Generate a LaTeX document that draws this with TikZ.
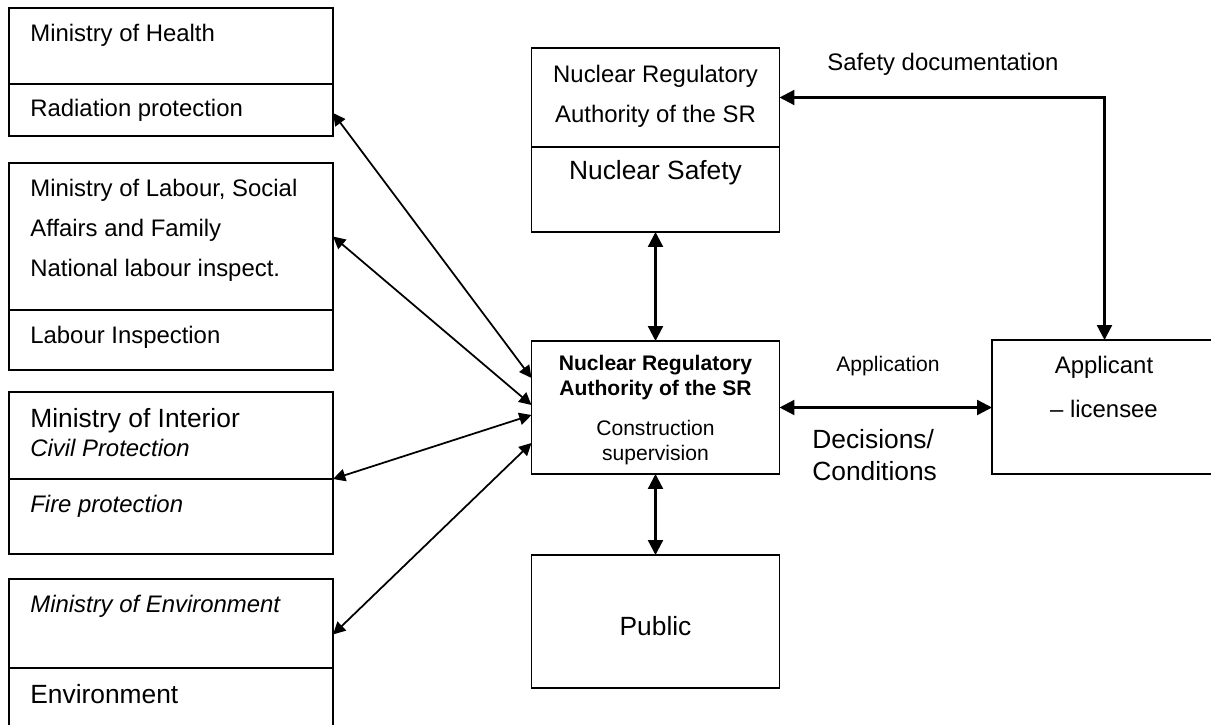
\documentclass[tikz,border=0pt]{standalone}
\usepackage{fontspec}
\setmainfont{Liberation Sans}
\usetikzlibrary{arrows.meta,positioning,calc}

\begin{document}
\begin{tikzpicture}[
    part/.style = {rectangle, draw, line width=0.75pt, minimum width=6.48cm, anchor=north west, inner sep=0pt, outer sep=0pt},
    mid/.style = {rectangle, draw, line width=0.75pt, minimum width=4.96cm, inner sep=0pt, outer sep=0pt},
    txt/.style = {inner sep=0pt, font=\fontsize{13.6}{16}\selectfont},
    big/.style = {inner sep=0pt, font=\fontsize{15}{18}\selectfont},
    small/.style = {inner sep=0pt, font=\fontsize{12}{13.7}\selectfont},
    link/.style = {{Triangle[length=7pt,width=7pt]}-{Triangle[length=7pt,width=7pt]}, line width=1pt},
    main/.style = {{Triangle[length=8.5pt,width=8.5pt]}-{Triangle[length=8.5pt,width=8.5pt]}, line width=1.3pt}
]
    \useasboundingbox (0,0) rectangle (24.22,14.48);
    % Ministries on the left
    \node[part, minimum height=1.52cm] (healthA) at (0.18,14.32) {};
    \node[part, minimum height=1.04cm, below=0pt of healthA] (radprot) {};
    \node[txt, anchor=base west] (healthT) at (0.6,13.64) {Ministry of Health};
    \node[txt, anchor=base west] (radT) at (0.6,12.14) {Radiation protection};

    \node[part, minimum height=2.94cm] (labourA) at (0.18,11.22) {};
    \node[part, minimum height=1.2cm, below=0pt of labourA] (labourB) {};
    % multi-line nodes sit on their last baseline
    \node[txt, anchor=base west, align=left, font=\fontsize{13.6}{22.8}\selectfont] (labourT) at (0.6,8.94) {Ministry of Labour, Social\\Affairs and Family\\National labour inspect.};
    \node[txt, anchor=base west] (inspT) at (0.6,7.62) {Labour Inspection};

    \node[part, minimum height=1.74cm] (interiorA) at (0.18,6.64) {};
    \node[part, minimum height=1.5cm, below=0pt of interiorA] (interiorB) {};
    \node[big, anchor=base west] (interiorT) at (0.6,5.94) {Ministry of Interior};
    \node[txt, anchor=base west] (civilT) at (0.6,5.36) {\itshape Civil Protection};
    \node[txt, anchor=base west] (fireT) at (0.6,4.24) {\itshape Fire protection};

    \node[part, minimum height=1.78cm] (envA) at (0.18,2.9) {};
    \node[part, minimum height=1.2cm, below=0pt of envA] (envB) {};
    \node[txt, anchor=base west] (envT) at (0.6,2.24) {\itshape Ministry of Environment};
    \node[big, anchor=base west] (environT) at (0.6,0.42) {Environment};

    % Authority boxes
    \node[mid, minimum height=1.98cm, anchor=north] (nraA) at (13.11,13.52) {};
    \node[mid, minimum height=1.7cm, below=0pt of nraA] (safety) {};
    \node[txt, anchor=base, align=center, font=\fontsize{13.6}{23.3}\selectfont] (nraT) at (13.11,12.02) {Nuclear Regulatory\\Authority of the SR};
    \node[big, anchor=base] (safetyT) at (13.11,10.88) {Nuclear Safety};

    \node[mid, minimum height=2.66cm] (csv) at (13.11,6.33) {};
    \node[small, anchor=base, align=center, font=\bfseries\fontsize{12}{13.66}\selectfont] (csvT) at (13.11,6.58) {Nuclear Regulatory\\Authority of the SR};
    \node[small, anchor=base, align=center] (constrT) at (13.11,5.28) {Construction\\supervision};

    \node[mid, minimum height=2.66cm] (public) at (13.11,2.05) {};
    \node[big, anchor=base] (publicT) at (13.11,1.78) {Public};

    \node[mid, minimum width=4.5cm, minimum height=2.68cm, anchor=north west] (applicant) at (19.84,7.68) {};
    \node[txt, anchor=base, align=center, font=\fontsize{13.6}{25}\selectfont] (applicantT) at (22.08,6.14) {Applicant\\– licensee};

    % Labels on the connectors
    \node[txt, anchor=base west] (docT) at (16.54,13.06) {Safety documentation};
    \node[small, anchor=base] (applT) at (17.76,7.06) {Application};
    \node[big, anchor=base west, align=left, font=\fontsize{15}{18.2}\selectfont] (decT) at (16.24,4.88) {Decisions/\\Conditions};

    % Arrows
    \draw[main] (nraA.east) -| (applicant.north);
    \draw[main] (safety.south) -- (csv.north);
    \draw[main] (csv.south) -- (public.north);
    \draw[main] (csv.east) -- (csv.east -| applicant.west);
    \draw[link] ([yshift=0.59cm]csv.west) -- ([yshift=-0.06cm]radprot.east);
    \draw[link] ([yshift=0.05cm]csv.west) -- (labourA.east);
    \draw[link] ([yshift=-0.15cm]csv.west) -- (interiorA.south east);
    \draw[link] ([yshift=-0.71cm]csv.west) -- ([yshift=-0.22cm]envA.east);
\end{tikzpicture}
\end{document}
